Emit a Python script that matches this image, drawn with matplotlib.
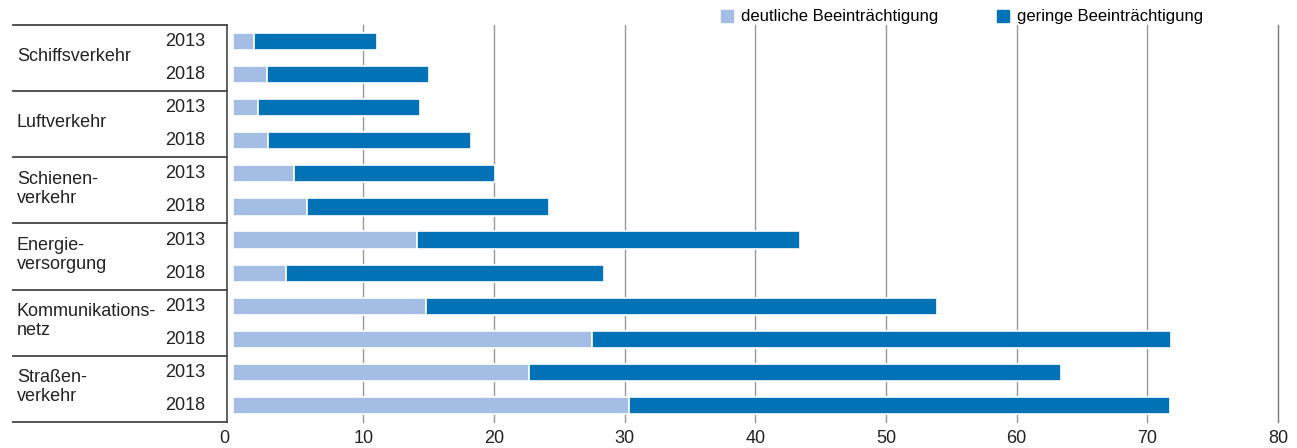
import matplotlib.pyplot as plt
import numpy as np
from matplotlib.lines import Line2D
from matplotlib.transforms import blended_transform_factory, ScaledTranslation

plt.rcParams['font.family'] = ['Liberation Sans', 'DejaVu Sans']

categories = ["Schiffsverkehr", "Luftverkehr", "Schienen-\nverkehr", "Energie-\nversorgung",
              "Kommunikations-\nnetz", "Straßen-\nverkehr"]
years = ["2013", "2018"]
# values per row: category x year, top to bottom
deutlich = [1.6, 2.6, 1.9, 2.7, 4.7, 5.7, 14.1, 4.1, 14.8, 27.5, 22.7, 30.3]
gering = [9.4, 12.4, 12.4, 15.5, 15.4, 18.5, 29.3, 24.3, 39.1, 44.3, 40.7, 41.4]
xticks = [0, 10, 20, 30, 40, 50, 60, 70, 80]

light = '#a3bde4'
dark = '#0072b5'

fig = plt.figure(figsize=(12.97, 4.48), dpi=100)
ax = fig.add_axes([227.3 / 1297, 1 - 422 / 448, (1278 - 227.3) / 1297, 397 / 448])

rows = np.arange(len(deutlich))
ax.barh(rows, deutlich, height=0.52, color=light, edgecolor='white', linewidth=1.2, zorder=3)
ax.barh(rows, gering, left=deutlich, height=0.52, color=dark, edgecolor='white', linewidth=1.2, zorder=3)

ax.set_xlim(-0.42, 80)
ax.set_ylim(len(rows) - 0.5, -0.5)
ax.set_xticks(xticks)
ax.set_xticklabels([str(t) for t in xticks], fontsize=13, color='#222222')
ax.tick_params(axis='x', length=0, pad=6)
ax.set_yticks([])

for t in xticks[1:]:
    ax.axvline(t, color='#999999', linewidth=1, zorder=1, clip_on=False)
ax.lines[-1].set_color('#777777')

# nudge the 0 label onto the axis line
lab0 = ax.get_xticklabels()[0]
lab0.set_transform(lab0.get_transform() + ScaledTranslation(-8 / 100, 0, fig.dpi_scale_trans))

for s in ['top', 'right', 'bottom']:
    ax.spines[s].set_visible(False)
ax.spines['left'].set_color('#555555')
ax.spines['left'].set_linewidth(1.3)

# left table: category names, years, separators
tr = blended_transform_factory(fig.transFigure, ax.transData)
for i, cat in enumerate(categories):
    y0 = 2 * i - 0.5
    fig.add_artist(Line2D([13 / 1297, 227.3 / 1297], [y0, y0], transform=tr,
                          color='#444444', linewidth=1.3))
    fig.text(17 / 1297, 2 * i + 0.45, cat, transform=tr, ha='left', va='center',
             fontsize=13, color='#222222', linespacing=1.15)
    for j, yr in enumerate(years):
        fig.text(205.7 / 1297, 2 * i + j, yr, transform=tr, ha='right', va='center',
                 fontsize=13, color='#222222')
fig.add_artist(Line2D([13 / 1297, 227.3 / 1297], [len(rows) - 0.5] * 2, transform=tr,
                      color='#444444', linewidth=1.3))

handles = [Line2D([], [], marker='s', linestyle='none', markersize=8, color=light),
           Line2D([], [], marker='s', linestyle='none', markersize=8, color=dark)]
fig.legend(handles, ['deutliche Beeinträchtigung', 'geringe Beeinträchtigung'],
           loc='center left', bbox_to_anchor=(720 / 1297, 1 - 17 / 448), ncol=2,
           frameon=False, fontsize=12, handlelength=0.8, handletextpad=0.45,
           columnspacing=3.5, borderpad=0, borderaxespad=0)

plt.savefig('out.png', dpi=100)
